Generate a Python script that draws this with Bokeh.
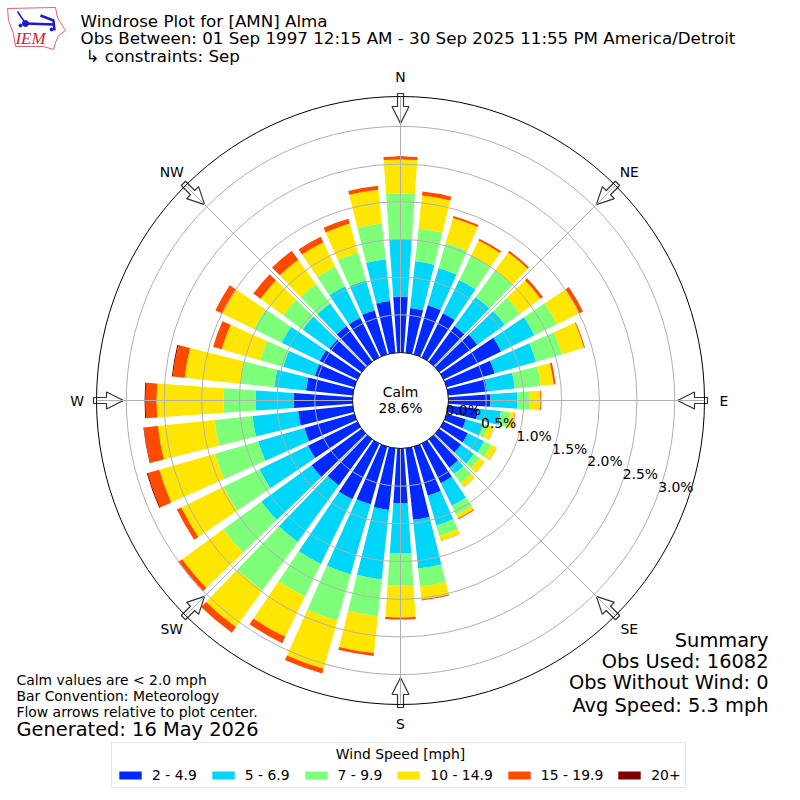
import math
from bokeh.core.properties import value
from bokeh.embed import file_html
from bokeh.models import ColumnDataSource, Label, Legend, LegendItem
from bokeh.plotting import figure
from bokeh.resources import INLINE

# ---- data (percent of observations per direction and speed bin) ----
bearings = list(range(0, 360, 10))
bin_labels = ["2 - 4.9", "5 - 6.9", "7 - 9.9", "10 - 14.9", "15 - 19.9", "20+"]
bin_colors = ["#0029ff", "#00d5fa", "#7dff7a", "#ffe600", "#ff4a00", "#7f0000"]
s2_5 = [.743,.597,.676,.650,.584,.623,.849,.663,.517,.557,.398,.265,.358,.358,.464,.584,.676,.955,
        .729,.822,.796,.822,.756,.822,.729,.690,.729,.782,.623,.544,.557,.530,.584,.584,.610,.690]
s5_7 = [.756,.623,.517,.491,.477,.451,.491,.570,.371,.358,.305,.239,.239,.212,.106,.332,.411,.650,
        .663,.928,.968,.955,.928,.822,.716,.637,.610,.504,.424,.438,.557,.438,.371,.464,.411,.557]
s7_10 = [.610,.438,.345,.358,.438,.252,.332,.358,.345,.159,.119,.066,.106,.093,.146,.133,.146,.239,
         .424,.491,.637,.477,.796,.623,.530,.597,.504,.424,.451,.318,.411,.318,.318,.292,.385,.477]
s10_15 = [.451,.438,.345,.225,.292,.332,.332,.305,.172,.146,.066,.080,.080,.080,.066,.053,.066,.172,
          .424,.491,.663,.597,.597,.676,.623,.769,.756,.889,.743,.530,.464,.371,.398,.358,.398,.451]
s15_20 = [.040,.053,.027,.027,.027,.040,.053,.013,.027,.013,.007,.003,.003,.003,.003,.013,.003,.013,
          .027,.040,.066,.093,.093,.066,.066,.159,.186,.146,.159,.119,.106,.119,.146,.080,.066,.053]
s20 = [0,0,0,0,0,0,0,0,0,0,0,0,0,0,0,0,0,0,
       0,0,0,0,0,0,0,.013,.007,.013,.013,0,0,0,0,0,0,0]
series = [s2_5, s5_7, s7_10, s10_15, s15_20, s20]
ring_values = [0.0, 0.5, 1.0, 1.5, 2.0, 2.5, 3.0]
compass = {"N": 0, "NE": 45, "E": 90, "SE": 135, "S": 180, "SW": 225, "W": 270, "NW": 315}
calm_text = "Calm\n28.6%"
title_lines = ["Windrose Plot for [AMN] Alma",
               "Obs Between: 01 Sep 1997 12:15 AM - 30 Sep 2025 11:55 PM America/Detroit",
               "\u21b3 constraints: Sep"]
summary_lines = ["Summary", "Obs Used: 16082", "Obs Without Wind: 0", "Avg Speed: 5.3 mph"]
note_lines = ["Calm values are < 2.0 mph", "Bar Convention: Meteorology", "Flow arrows relative to plot center."]
generated = "Generated: 16 May 2026"
legend_title = "Wind Speed [mph]"

# ---- geometry: data units equal reference pixels; y = 800 - page y ----
W = H = 800
CX, CY = 400, 400
R0, R_PER_PCT, R_OUT = 48, 75.4, 304
BAR_DEG = 8
FONT = value("DejaVu Sans")


def rad(v):
    return R0 + R_PER_PCT * v


def polar(r, bearing):
    a = math.radians(bearing)
    return CX + r * math.sin(a), CY + r * math.cos(a)


p = figure(width=W, height=H, x_range=(0, 800), y_range=(0, 800), x_axis_type=None, y_axis_type=None,
           output_backend="svg", toolbar_location=None, min_border=0, outline_line_color=None)
p.grid.visible = False

# ---- stacked bars ----
items = []
cum = [0.0] * len(bearings)
for vals, col, lab in zip(series, bin_colors, bin_labels):
    top = [c + v for c, v in zip(cum, vals)]
    src = ColumnDataSource(dict(
        inner=[rad(c) for c in cum], outer=[rad(t) for t in top],
        start=[math.radians(90 - b - BAR_DEG / 2) for b in bearings],
        end=[math.radians(90 - b + BAR_DEG / 2) for b in bearings]))
    r = p.annular_wedge(x=CX, y=CY, inner_radius="inner", outer_radius="outer", start_angle="start",
                        end_angle="end", fill_color=col, line_color=None, source=src)
    items.append(LegendItem(label=lab, renderers=[r]))
    cum = top

# ---- grid rings ----
p.circle(x=[CX] * 6, y=[CY] * 6, radius=[rad(v) for v in ring_values[1:]], fill_color=None,
         line_color="#b0b0b0", line_width=1)

# ---- flow arrows ----
ARROW = [(307, -3), (294, -3), (294, -8.5), (277, 0), (294, 8.5), (294, 3), (307, 3)]
axs, ays = [], []
for b in compass.values():
    a = math.radians(b)
    xs, ys = [], []
    for rr, off in ARROW:
        xs.append(CX + rr * math.sin(a) + off * math.cos(a))
        ys.append(CY + rr * math.cos(a) - off * math.sin(a))
    axs.append(xs)
    ays.append(ys)
p.patches(axs, ays, fill_color="white", line_color="#333333", line_width=1.2)

# ---- radial grid ----
x0, y0, x1, y1 = [], [], [], []
for b in compass.values():
    a0 = polar(R0, b)
    a1 = polar(R_OUT, b)
    x0.append(a0[0]); y0.append(a0[1]); x1.append(a1[0]); y1.append(a1[1])
p.segment(x0, y0, x1, y1, line_color="#b0b0b0", line_width=1)

# ---- frame and calm hole ----
p.circle(x=[CX], y=[CY], radius=[R_OUT], fill_color=None, line_color="black", line_width=1)
p.circle(x=[CX], y=[CY], radius=[R0], fill_color="white", line_color="black", line_width=1)
p.text(x=[CX], y=[CY + 1], text=[calm_text], text_font=FONT, text_font_size="13.9px", text_align="center",
       text_baseline="middle", text_color="black", text_line_height=1.0)

# ---- radial tick labels ----
lx = [polar(rad(v), 110)[0] for v in ring_values]
ly = [polar(rad(v), 110)[1] for v in ring_values]
p.text(x=lx, y=ly, text=[f"{v:.1f}%" for v in ring_values], text_font=FONT, text_font_size="13.9px",
       text_align="left", text_baseline="alphabetic", text_color="black", x_offset=0, y_offset=-7)

# ---- compass labels ----
cl = [polar(323.5, b) for b in compass.values()]
p.text(x=[c[0] for c in cl], y=[c[1] for c in cl], text=list(compass.keys()), text_font=FONT,
       text_font_size="13.9px", text_align="center", text_baseline="middle", text_color="black")

# ---- header, notes, summary ----
p.text(x=[80, 80, 85], y=[800 - 20, 800 - 37, 800 - 55], text=title_lines, text_font=FONT,
       text_font_size="16.7px", text_align="left", text_baseline="middle", text_color="black")
p.text(x=[768] * 4, y=[800 - 640, 800 - 661, 800 - 682, 800 - 705], text=summary_lines, text_font=FONT,
       text_font_size="19.4px", text_align="right", text_baseline="middle", text_color="black")
p.text(x=[16] * 3, y=[800 - 679, 800 - 695, 800 - 711], text=note_lines, text_font=FONT,
       text_font_size="13.9px", text_align="left", text_baseline="middle", text_color="black")
p.text(x=[16], y=[800 - 729], text=[generated], text_font=FONT, text_font_size="19.4px", text_align="left",
       text_baseline="middle", text_color="black")

# ---- logo ----
logo_x = [7, 55, 57, 60, 65, 58, 55, 53, 43, 15, 13, 8, 7]
logo_y = [8, 7, 17, 22, 30, 35, 42, 49, 46, 46, 33, 20, 8]
p.line(logo_x, [800 - v for v in logo_y], line_color="#e06070", line_width=1)
p.line([25, 53], [800 - 23, 800 - 24], line_color="#1a1ad0", line_width=2.5)
p.line([17, 25], [800 - 11, 800 - 23], line_color="#1a1ad0", line_width=1.5)
p.line([40, 53, 54], [800 - 15, 800 - 20, 800 - 30], line_color="#1a1ad0", line_width=2.5)
p.scatter([25, 20, 51], [800 - 23, 800 - 25, 800 - 29], size=[6, 3, 3], color="#1a1ad0")
p.text(x=[30], y=[800 - 38], text=["IEM"], text_font=value("Liberation Serif"), text_font_style="italic",
       text_font_size="17px", text_align="center", text_baseline="middle", text_color="#d82030")

# ---- legend ----
legend = Legend(items=items, orientation="horizontal", location=(111, 12), title=" ",
                title_text_font="DejaVu Sans", title_text_font_size="13.9px", title_text_font_style="normal",
                title_standoff=4,
                label_text_font="DejaVu Sans", label_text_font_size="13.9px", label_text_color="black",
                glyph_width=28, glyph_height=10,
                label_standoff=8, spacing=12, padding=4, margin=0, border_line_color="#cccccc",
                background_fill_alpha=0)
p.add_layout(legend, "center")
p.add_layout(Label(x=400, y=800 - 753, text=legend_title, text_font="DejaVu Sans", text_font_size="13.9px",
                   text_align="center", text_baseline="middle", text_color="black", level="overlay"))

open("out.html", "w").write(file_html(p, INLINE))
